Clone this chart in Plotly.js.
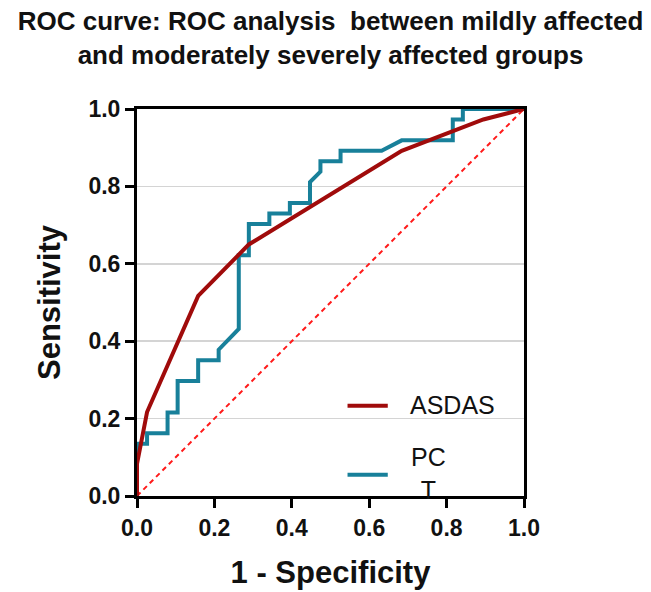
<!DOCTYPE html>
<html>
<head>
<meta charset="utf-8">
<script src="https://cdn.plot.ly/plotly-3.0.1.min.js"></script>
<style>html,body{margin:0;padding:0;background:#fff;}#chart{width:651px;height:592px;}</style>
</head>
<body>
<div id="chart"></div>
<script>
// ROC curve data (1 - Specificity, Sensitivity)
const asdasFpr = [0, 0, 0.026, 0.158, 0.289, 0.684, 0.895, 1];
const asdasTpr = [0, 0.083, 0.217, 0.517, 0.650, 0.892, 0.973, 1];

const pctFpr = [0, 0, 0.026, 0.026, 0.079, 0.079, 0.105, 0.105, 0.158, 0.158, 0.211, 0.211, 0.263, 0.263, 0.289, 0.289, 0.342, 0.342, 0.395, 0.395, 0.447, 0.447, 0.474, 0.474, 0.526, 0.526, 0.632, 0.684, 0.816, 0.816, 0.842, 0.842, 1];
const pctTpr = [0, 0.135, 0.135, 0.162, 0.162, 0.216, 0.216, 0.297, 0.297, 0.351, 0.351, 0.378, 0.432, 0.622, 0.622, 0.703, 0.703, 0.730, 0.730, 0.757, 0.757, 0.811, 0.838, 0.865, 0.865, 0.892, 0.892, 0.919, 0.919, 0.973, 0.973, 1.0, 1];

const refX = [0, 1];
const refY = [0, 1];

const seriesNames = ["ASDAS", "PC<br>T"];
const tickVals = [0, 0.2, 0.4, 0.6, 0.8, 1.0];
const tickText = ["0.0", "0.2", "0.4", "0.6", "0.8", "1.0"];

const red = "#a00b0b";
const teal = "#18809a";
const FONT = "Arial, 'Liberation Sans', sans-serif";

const traces = [
  {x: refX, y: refY, mode: "lines", showlegend: false, hoverinfo: "skip",
   line: {color: "#ff1a1a", width: 2, dash: "5px,4px"}},
  {x: pctFpr, y: pctTpr, mode: "lines", name: seriesNames[1], showlegend: false,
   line: {color: teal, width: 4}},
  {x: asdasFpr, y: asdasTpr, mode: "lines", name: seriesNames[0], showlegend: false,
   line: {color: red, width: 4}}
];

// manual legend (line swatches + text)
const legendItems = [
  {name: seriesNames[0], color: red, y: 0.233},
  {name: seriesNames[1], color: teal, y: 0.055}
];
const shapes = legendItems.map(it => ({
  type: "line", xref: "paper", yref: "paper",
  x0: 0.544, x1: 0.648, y0: it.y, y1: it.y,
  line: {color: it.color, width: 4}
}));
const annotations = [
  {xref: "paper", yref: "paper", x: 0.700, y: 0.236, xanchor: "left", yanchor: "middle",
   text: seriesNames[0], showarrow: false, font: {family: FONT, size: 25, color: "#111"}},
  {xref: "paper", yref: "paper", x: 0.702, y: 0.058, xanchor: "left", yanchor: "middle",
   align: "center", text: seriesNames[1], showarrow: false, font: {family: FONT, size: 25, color: "#111"}}
];

const axisCommon = {
  range: [0, 1], tickvals: tickVals, ticktext: tickText,
  showline: true, linecolor: "#000", linewidth: 3, mirror: true,
  ticks: "outside", ticklen: 9, tickwidth: 3, tickcolor: "#000",
  tickfont: {family: FONT, size: 23, weight: "bold", color: "#111"},
  zeroline: false, fixedrange: true
};

const layout = {
  width: 651, height: 592,
  margin: {l: 137, r: 127, t: 109, b: 96},
  paper_bgcolor: "#fff", plot_bgcolor: "#fff",
  title: {
    text: "ROC curve: ROC analysis&nbsp; between mildly affected<br>and moderately severely affected groups",
    font: {family: FONT, size: 26, weight: "bold", color: "#111"},
    x: 0.5, xref: "paper", xanchor: "center",
    y: 0.949, yref: "container", yanchor: "top"
  },
  xaxis: Object.assign({}, axisCommon, {
    showgrid: false,
    title: {text: "1 - Specificity", font: {family: FONT, size: 31, weight: "bold", color: "#111"}, standoff: 22}
  }),
  yaxis: Object.assign({}, axisCommon, {
    showgrid: true, gridcolor: "#d4d4d4", gridwidth: 1.5,
    title: {text: "Sensitivity", font: {family: FONT, size: 31, weight: "bold", color: "#111"}, standoff: 19}
  }),
  shapes: shapes,
  annotations: annotations,
  showlegend: false
};

Plotly.newPlot("chart", traces, layout, {displayModeBar: false, staticPlot: true});
</script>
</body>
</html>
